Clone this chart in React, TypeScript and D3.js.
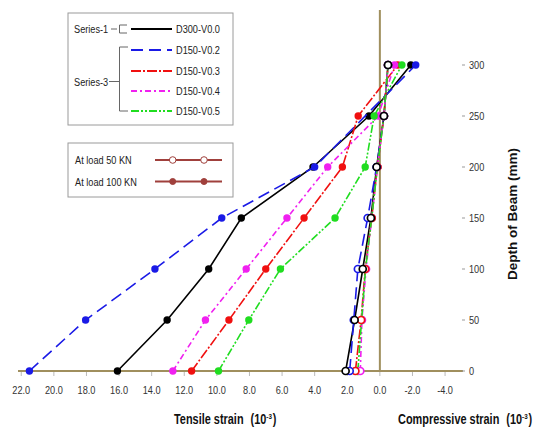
import React from "react";
import * as d3 from "d3";

const depths = [0, 50, 100, 150, 200, 250, 300];

// Load 100 KN (filled markers)
const d300V00_100 = [16.1, 13.05, 10.5, 8.5, 4.1, 0.67, -1.9];
const d150V02_100 = [21.5, 18.05, 13.8, 9.7, 4.0, null, -2.2];
const d150V03_100 = [11.55, 9.26, 7.0, 4.65, 2.3, 1.33, -1.1];
const d150V04_100 = [12.7, 10.7, 8.2, 5.7, 3.2, 0.1, -0.9];
const d150V05_100 = [9.9, 8.04, 6.1, 2.75, 0.9, 0.35, -1.35];

// Load 50 KN (open markers)
const d300V00_50 = [2.1, 1.55, 1.05, 0.55, 0.2, -0.25, -0.5];
const d150V02_50 = [1.85, 1.6, 1.35, 0.75, 0.2, -0.25, -0.5];
const d150V03_50 = [1.5, 1.15, 0.9, 0.5, 0.15, -0.25, -0.5];
const d150V04_50 = [1.2, 1.1, 0.85, 0.5, 0.15, -0.25, -0.5];
const d150V05_50 = [1.35, 1.12, 0.88, 0.5, 0.15, -0.25, -0.5];

const seriesNames = ["D300-V0.0", "D150-V0.2", "D150-V0.3", "D150-V0.4", "D150-V0.5"];
const seriesColors = ["#000000", "#1a1ae6", "#f01010", "#f020f0", "#20dd20"];
const seriesDash = ["", "12,6", "10,2,2,2", "6,3,2,3", "8,2,2,2,2,2"];
const load100 = [d300V00_100, d150V02_100, d150V03_100, d150V04_100, d150V05_100];
const load50 = [d300V00_50, d150V02_50, d150V03_50, d150V04_50, d150V05_50];

const xTicks = d3.range(22, -4.1, -2);
const yTicks = [0, 50, 100, 150, 200, 250, 300];
const loadLabels = ["At load 50 KN", "At load 100 KN"];

const FONT = "'Liberation Sans', Arial, sans-serif";
const AXIS = "#a08f5e";

// condensed text helper (Arial Narrow look)
function NT(props: {
  x: number;
  y: number;
  size: number;
  anchor?: string;
  weight?: string;
  fill?: string;
  sx?: number;
  children: React.ReactNode;
}) {
  const { x, y, size, anchor = "start", weight = "normal", fill = "#222", sx = 0.8, children } = props;
  return (
    <text
      transform={`translate(${x},${y}) scale(${sx},1)`}
      fontSize={size}
      textAnchor={anchor}
      fontWeight={weight}
      fill={fill}
    >
      {children}
    </text>
  );
}

export default function App() {
  const x = d3.scaleLinear().domain([22.2, -5.1]).range([18, 463]);
  const y = d3.scaleLinear().domain([0, 300]).range([371, 65]);

  const toPts = (vals: (number | null)[]) =>
    vals
      .map((v, i) => (v === null ? null : ([v, depths[i]] as [number, number])))
      .filter((p): p is [number, number] => p !== null);

  const line = d3
    .line<[number, number]>()
    .x((d) => x(d[0]))
    .y((d) => y(d[1]));

  const legendRows = [29, 50, 71, 91, 111];

  return (
    <svg width={535} height={429} style={{ position: "absolute", left: 0, top: 0 }} fontFamily={FONT}>
      <rect x={0} y={0} width={535} height={429} fill="#fff" />

      {/* axes */}
      <line x1={x(0)} x2={x(0)} y1={10} y2={y(0)} stroke={AXIS} strokeWidth={2} />
      <line x1={x(22.2)} x2={x(-5.1)} y1={y(0)} y2={y(0)} stroke={AXIS} strokeWidth={2} />
      {xTicks.map((t) => (
        <g key={"xt" + t}>
          <line x1={x(t)} x2={x(t)} y1={y(0) + 1} y2={y(0) + 5} stroke="#bbb" strokeWidth={1} />
          <NT x={x(t)} y={394} size={11.5} anchor="middle" fill="#333">
            {t.toFixed(1)}
          </NT>
        </g>
      ))}
      {yTicks.map((t) => (
        <g key={"yt" + t}>
          <line x1={462} x2={465} y1={y(t)} y2={y(t)} stroke="#999" strokeWidth={1} />
          <NT x={469} y={y(t) + 4} size={11.5} fill="#333">
            {t}
          </NT>
        </g>
      ))}

      {/* axis titles */}
      <text
        transform={`translate(517, 214) rotate(-90)`}
        textAnchor="middle"
        fontSize={13.5}
        fontWeight="bold"
        fill="#111"
      >
        Depth of Beam (mm)
      </text>
      <NT x={174} y={424} size={14} weight="bold" fill="#111" sx={0.78}>
        Tensile strain
        <tspan dx={9}>(10</tspan>
        <tspan dy={-5} fontSize={8}>-3</tspan>
        <tspan dy={5} dx={1}>)</tspan>
      </NT>
      <NT x={398} y={424} size={14} weight="bold" fill="#111" sx={0.78}>
        Compressive strain
        <tspan dx={9}>(10</tspan>
        <tspan dy={-5} fontSize={8}>-3</tspan>
        <tspan dy={5} dx={1}>)</tspan>
      </NT>

      {/* 100 KN series */}
      {load100.map((vals, i) => (
        <g key={"l100" + i}>
          <path
            d={line(toPts(vals)) || ""}
            fill="none"
            stroke={seriesColors[i]}
            strokeWidth={1.6}
            strokeDasharray={seriesDash[i]}
          />
          {toPts(vals).map((p, j) => (
            <circle key={j} cx={x(p[0])} cy={y(p[1])} r={3.7} fill={seriesColors[i]} />
          ))}
        </g>
      ))}

      {/* 50 KN series */}
      {load50.map((vals, i) => (
        <g key={"l50" + i}>
          <path
            d={line(toPts(vals)) || ""}
            fill="none"
            stroke={seriesColors[i]}
            strokeWidth={1.6}
            strokeDasharray={seriesDash[i]}
          />
        </g>
      ))}
      {load50
        .map((vals, i) => ({ vals, i }))
        .reverse()
        .map(({ vals, i }) => (
          <g key={"m50" + i}>
            {toPts(vals).map((p, j) => (
              <circle
                key={j}
                cx={x(p[0])}
                cy={y(p[1])}
                r={3.5}
                fill="#fff"
                stroke={seriesColors[i]}
                strokeWidth={1.7}
              />
            ))}
          </g>
        ))}

      {/* legend 1 */}
      <rect x={68} y={13} width={165} height={112} fill="#fff" stroke="#9a9a9a" strokeWidth={1} />
      <NT x={74} y={legendRows[0] + 4} size={11.5}>Series-1</NT>
      <NT x={74} y={81.5 + 4} size={11.5}>Series-3</NT>
      <g stroke="#666" strokeWidth={1} fill="none">
        <line x1={111} x2={117} y1={legendRows[0]} y2={legendRows[0]} />
        <path d={`M127,${legendRows[0] - 4}H119.5V${legendRows[0] + 4}H127`} />
        <line x1={109} x2={119.5} y1={81.5} y2={81.5} />
        <path d={`M128,${legendRows[1] - 3}H119.5V${legendRows[4]}H128`} />
      </g>
      {seriesNames.map((n, i) => (
        <g key={"lg" + i}>
          <line
            x1={131}
            x2={172}
            y1={legendRows[i]}
            y2={legendRows[i]}
            stroke={seriesColors[i]}
            strokeWidth={2.2}
            strokeDasharray={seriesDash[i]}
          />
          <NT x={176} y={legendRows[i] + 4} size={11.5}>
            {n}
          </NT>
        </g>
      ))}

      {/* legend 2 */}
      <rect x={68} y={143} width={165} height={54} fill="#fff" stroke="#9a9a9a" strokeWidth={1} />
      {loadLabels.map((l, i) => {
        const yy = 160 + i * 21.5;
        return (
          <g key={"ld" + i}>
            <NT x={75} y={yy + 4} size={11.5}>
              {l}
            </NT>
            <line x1={155} x2={222} y1={yy} y2={yy} stroke="#a0403c" strokeWidth={2} />
            {[172.7, 204].map((cx) => (
              <circle
                key={cx}
                cx={cx}
                cy={yy}
                r={i === 0 ? 3.3 : 3}
                fill={i === 0 ? "#fff" : "#a0403c"}
                stroke="#a0403c"
                strokeWidth={1}
              />
            ))}
          </g>
        );
      })}
    </svg>
  );
}
